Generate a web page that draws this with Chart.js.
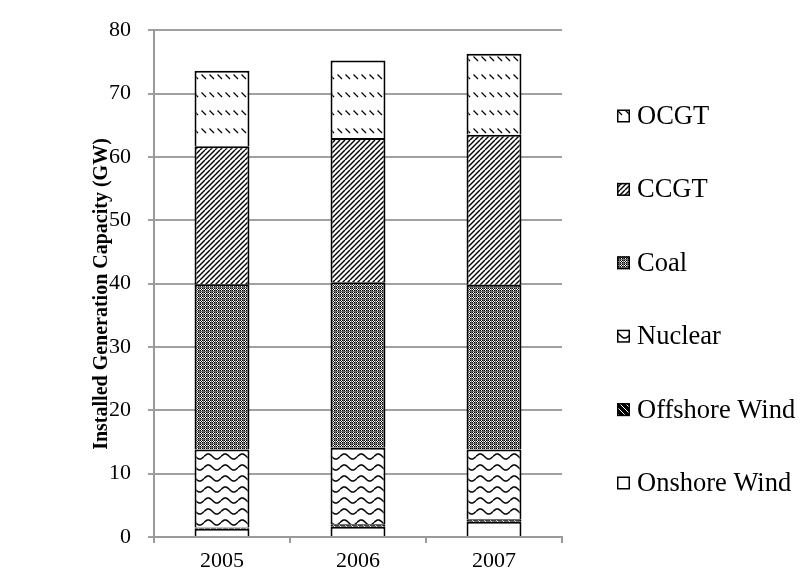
<!DOCTYPE html>
<html>
<head>
<meta charset="utf-8">
<script src="https://cdn.jsdelivr.net/npm/chart.js@4/dist/chart.umd.min.js"></script>
<style>
  html, body { margin: 0; padding: 0; background: #ffffff; }
  #wrap { width: 800px; height: 583px; }
</style>
</head>
<body>
<div id="wrap"><canvas id="c" width="800" height="583"></canvas></div>
<script>
// Installed generation capacity by technology (GW)
const years = ['2005', '2006', '2007'];
const onshoreWind = [1.3, 1.6, 2.4];
const offshoreWind = [0.2, 0.4, 0.4];
const nuclear = [12.3, 12.1, 11.0];
const coal = [26.1, 26.1, 26.0];
const ccgt = [21.8, 22.8, 23.7];
const ocgt = [11.9, 12.2, 12.8];
const yTicks = [0, 10, 20, 30, 40, 50, 60, 70, 80];
const yTitle = 'Installed Generation Capacity (GW)';

const SERIF = '"Liberation Serif", "Times New Roman", serif';

// ---- hatch fills ----
function tile(w, h, paint) {
  const cv = document.createElement('canvas');
  cv.width = w; cv.height = h;
  const g = cv.getContext('2d');
  g.fillStyle = '#ffffff';
  g.fillRect(0, 0, w, h);
  paint(g, w, h);
  return document.createElement('canvas').getContext('2d').createPattern(cv, 'repeat');
}

// rows of short dashes slanting down to the right
const ocgtFill = tile(8, 18, (g) => {
  g.strokeStyle = '#000'; g.lineWidth = 1.3;
  g.beginPath(); g.moveTo(1.5, 2.5); g.lineTo(6, 7); g.stroke();
});

// dense upward diagonals
const ccgtFill = tile(10, 10, (g) => {
  g.strokeStyle = '#000'; g.lineWidth = 1.4;
  for (let k = -10; k <= 20; k += 5) {
    g.beginPath(); g.moveTo(k, 10); g.lineTo(k + 10, 0); g.stroke();
  }
});

// fine dark checkerboard with grey grid
const coalFill = (() => {
  const cv = document.createElement('canvas');
  cv.width = 4; cv.height = 4;
  const g = cv.getContext('2d');
  const img = g.createImageData(4, 4);
  for (let y = 0; y < 4; y++) {
    for (let x = 0; x < 4; x++) {
      let v;
      if (x === 3 || y === 3) v = 110;
      else v = ((x + y) % 2 === 0) ? 0 : 255;
      const i = (y * 4 + x) * 4;
      img.data[i] = v; img.data[i + 1] = v; img.data[i + 2] = v; img.data[i + 3] = 255;
    }
  }
  g.putImageData(img, 0, 0);
  return document.createElement('canvas').getContext('2d').createPattern(cv, 'repeat');
})();

// wavy lines
const nuclearFill = tile(17, 11, (g, w) => {
  g.strokeStyle = '#000'; g.lineWidth = 1.5;
  g.beginPath();
  for (let x = 0; x <= w; x += 0.5) {
    const y = 5.5 - 2.5 * Math.sin(2 * Math.PI * x / w);
    if (x === 0) g.moveTo(x, y); else g.lineTo(x, y);
  }
  g.stroke();
});

// dark heavy diagonal
const offshoreFill = tile(6, 6, (g) => {
  g.fillStyle = '#000'; g.fillRect(0, 0, 6, 6);
  g.strokeStyle = '#fff'; g.lineWidth = 1;
  g.beginPath(); g.moveTo(0, 0); g.lineTo(6, 6); g.stroke();
});

const onshoreFill = '#ffffff';

function series(label, data, fill) {
  return {
    label, data,
    backgroundColor: fill,
    borderColor: '#000000',
    borderWidth: 2,
    borderSkipped: 'start',
    categoryPercentage: 1.0,
    barPercentage: 0.404
  };
}

const datasets = [
  series('Onshore Wind', onshoreWind, onshoreFill),
  series('Offshore Wind', offshoreWind, offshoreFill),
  series('Nuclear', nuclear, nuclearFill),
  series('Coal', coal, coalFill),
  series('CCGT', ccgt, ccgtFill),
  series('OCGT', ocgt, ocgtFill)
];

// Vertical axis title and the right-hand key
const decorations = {
  id: 'decorations',
  afterDraw(chart) {
    const ctx = chart.ctx;
    const area = chart.chartArea;
    ctx.save();
    // axis title
    ctx.font = 'bold 20px ' + SERIF;
    ctx.fillStyle = '#000';
    ctx.textAlign = 'center';
    ctx.textBaseline = 'middle';
    ctx.translate(102, 294);
    ctx.rotate(-Math.PI / 2);
    ctx.fillText(yTitle, 0, 0);
    ctx.restore();

    // key, top entry = last stacked series
    ctx.save();
    const items = chart.data.datasets.slice().reverse();
    const boxX = area.right + 55;
    const box = 13;
    const firstY = 116;
    const step = 73.4;
    ctx.font = '26.5px ' + SERIF;
    ctx.textAlign = 'left';
    ctx.textBaseline = 'middle';
    items.forEach((ds, i) => {
      const cy = firstY + i * step;
      ctx.fillStyle = ds.backgroundColor;
      ctx.fillRect(boxX, cy - box / 2, box, box);
      ctx.strokeStyle = '#000';
      ctx.lineWidth = 1.5;
      ctx.strokeRect(boxX + 0.75, cy - box / 2 + 0.75, box - 1.5, box - 1.5);
      ctx.fillStyle = '#000';
      ctx.fillText(ds.label, boxX + box + 7, cy + 1);
    });
    ctx.restore();
  }
};

new Chart(document.getElementById('c'), {
  type: 'bar',
  data: { labels: years, datasets },
  options: {
    responsive: false,
    animation: false,
    layout: { padding: { top: 21, right: 238, left: 0, bottom: 0 } },
    plugins: { legend: { display: false }, tooltip: { enabled: false }, title: { display: false } },
    scales: {
      x: {
        stacked: true,
        grid: { display: true, drawOnChartArea: false, drawTicks: true, tickLength: 6, color: '#9a9a9a', lineWidth: 2 },
        border: { display: true, color: '#9a9a9a', width: 2 },
        ticks: { color: '#000', font: { family: SERIF, size: 22 }, padding: 5 },
        afterFit(s) { s.height = 46; }
      },
      y: {
        stacked: true,
        min: 0, max: 80,
        afterBuildTicks(s) { s.ticks = yTicks.map(v => ({ value: v })); },
        grid: { color: '#a0a0a0', lineWidth: 2, tickLength: 6 },
        border: { display: true, color: '#9a9a9a', width: 2 },
        ticks: { color: '#000', font: { family: SERIF, size: 22 }, padding: 17 },
        afterFit(s) { s.width = 154; }
      }
    }
  },
  plugins: [decorations]
});
</script>
</body>
</html>
